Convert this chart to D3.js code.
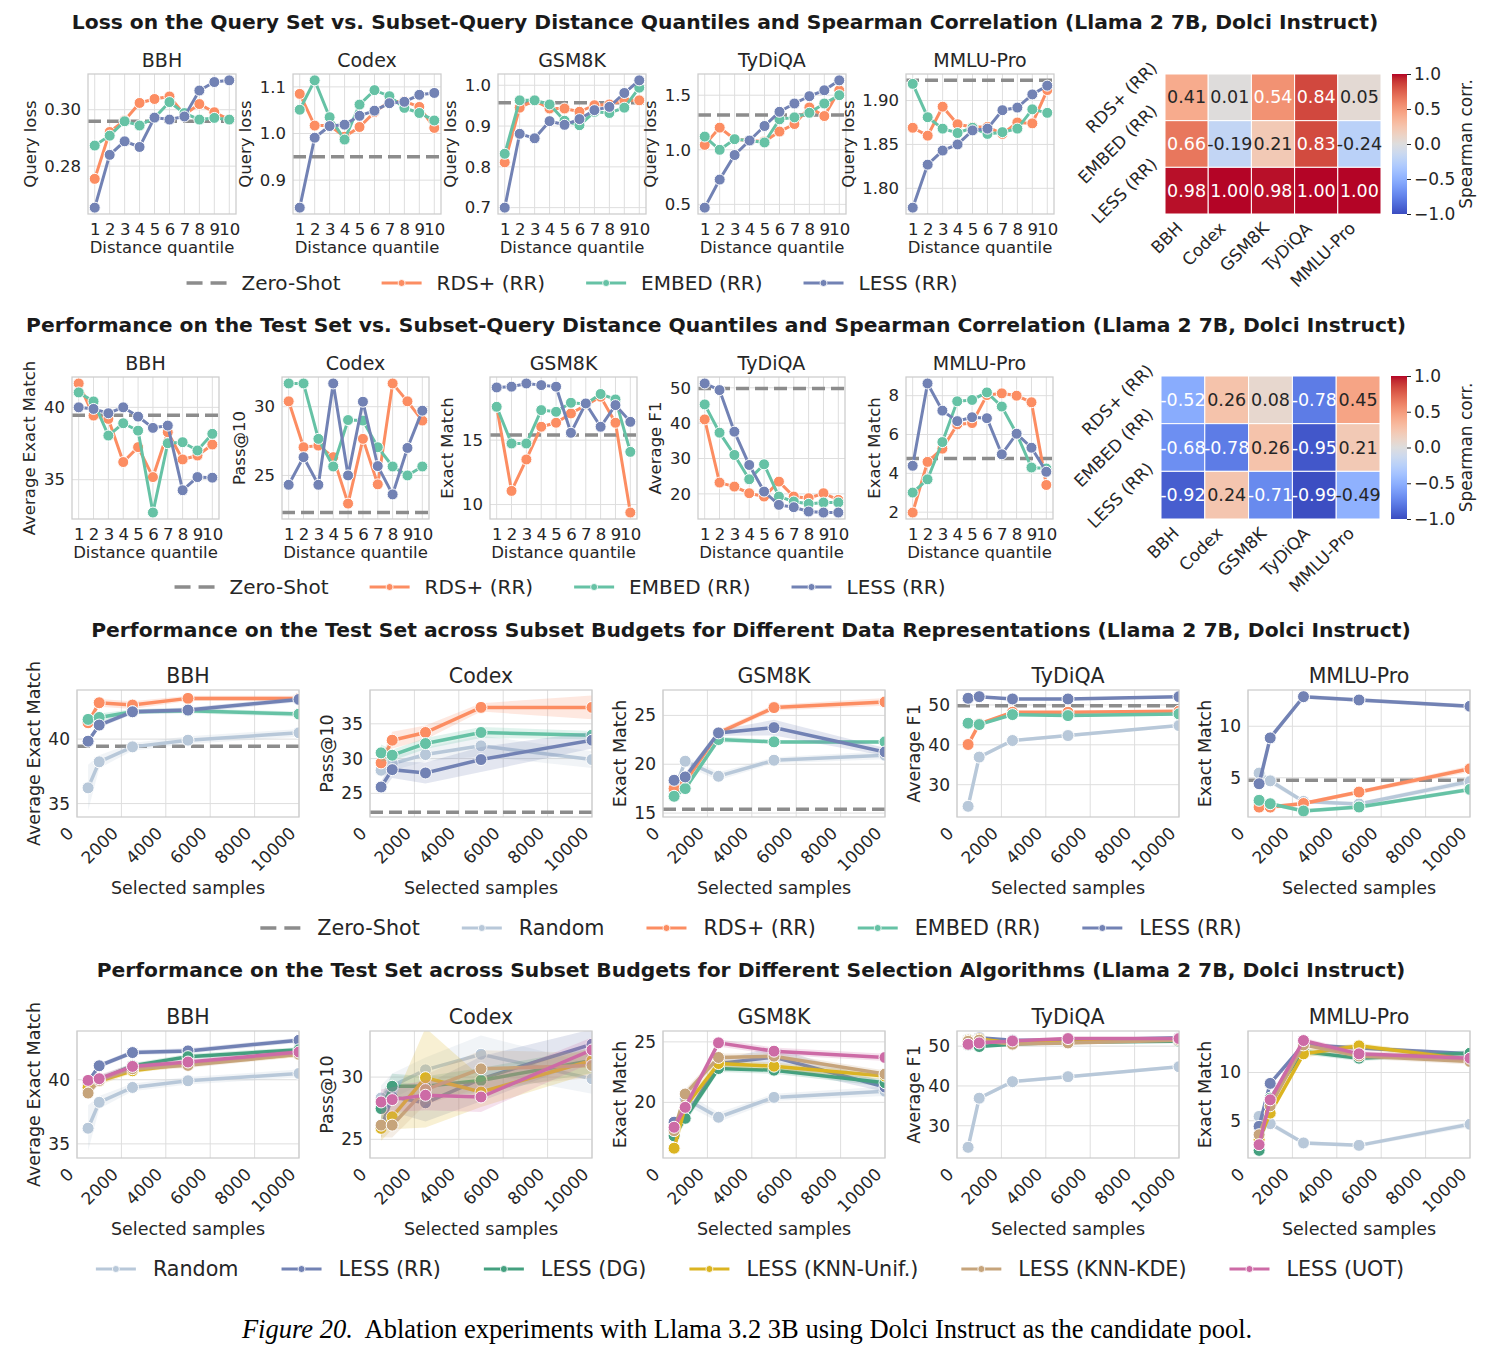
<!DOCTYPE html>
<meta charset="utf-8" />
<script src="https://d3js.org/d3.v7.min.js"></script>
<body style="margin:0;background:#fff">
<div id="chart"></div>
<script>
// ---------------- data ----------------
const tasks = ["BBH", "Codex", "GSM8K", "TyDiQA", "MMLU-Pro"];
const quantiles = [1, 2, 3, 4, 5, 6, 7, 8, 9, 10];
const budgets = [500, 1000, 2500, 5000, 10000];
const corrRows = ["RDS+ (RR)", "EMBED (RR)", "LESS (RR)"];

// row 1: query loss vs distance quantile
const lossZeroShot = [0.2959, 0.950, 0.957, 1.318, 1.923];
const lossRDS = [
  [0.2755, 0.2921, 0.2962, 0.3024, 0.3038, 0.3047, 0.2982, 0.3020, 0.2991, 0.2965],
  [1.085, 1.017, 1.017, 0.993, 1.014, 1.046, 1.068, 1.069, 1.057, 1.012],
  [0.811, 0.945, 0.963, 0.943, 0.943, 0.935, 0.951, 0.953, 0.963, 0.963],
  [1.045, 1.203, 1.097, 1.085, 1.076, 1.167, 1.236, 1.388, 1.309, 1.545],
  [1.869, 1.860, 1.893, 1.873, 1.870, 1.870, 1.862, 1.875, 1.874, 1.912]
];
const lossEMBED = [
  [0.2873, 0.2908, 0.2959, 0.2944, 0.2971, 0.3027, 0.2988, 0.2965, 0.2971, 0.2965],
  [1.051, 1.114, 1.035, 0.987, 1.062, 1.093, 1.080, 1.055, 1.044, 1.028],
  [0.832, 0.963, 0.963, 0.953, 0.913, 0.902, 0.935, 0.932, 0.945, 0.994],
  [1.121, 1.000, 1.097, 1.085, 1.067, 1.279, 1.297, 1.339, 1.424, 1.500],
  [1.919, 1.881, 1.868, 1.863, 1.869, 1.862, 1.864, 1.868, 1.890, 1.886]
];
const lossLESS = [
  [0.2653, 0.2840, 0.2888, 0.2868, 0.2972, 0.2965, 0.2976, 0.3068, 0.3098, 0.3104],
  [0.841, 0.991, 1.016, 1.019, 1.038, 1.049, 1.065, 1.068, 1.083, 1.087],
  [0.700, 0.881, 0.870, 0.912, 0.903, 0.917, 0.939, 0.947, 0.981, 1.012],
  [0.470, 0.727, 0.952, 1.085, 1.218, 1.348, 1.424, 1.491, 1.545, 1.636],
  [1.778, 1.827, 1.843, 1.850, 1.866, 1.868, 1.889, 1.892, 1.907, 1.917]
];
const lossTicks = [[0.28, 0.30], [0.9, 1.0, 1.1], [0.7, 0.8, 0.9, 1.0], [0.5, 1.0, 1.5], [1.80, 1.85, 1.90]];
const lossTickFmt = [".2f", ".1f", ".1f", ".1f", ".2f"];
const lossCorr = [
  [0.41, 0.01, 0.54, 0.84, 0.05],
  [0.66, -0.19, 0.21, 0.83, -0.24],
  [0.98, 1.00, 0.98, 1.00, 1.00]
];

// row 2: test performance vs distance quantile
const perfYLabels = ["Average Exact Match", "Pass@10", "Exact Match", "Average F1", "Exact Match"];
const perfZeroShot = [39.45, 22.3, 15.4, 49.8, 4.76];
const perfRDS = [
  [41.65, 39.43, 39.20, 36.22, 37.25, 35.18, 38.28, 36.40, 36.67, 37.43],
  [30.39, 27.05, 27.17, 26.33, 22.95, 27.66, 24.35, 31.69, 30.39, 28.99],
  [17.59, 11.06, 13.50, 16.04, 16.35, 17.07, 17.72, 18.37, 16.35, 9.38],
  [41.06, 23.19, 22.06, 20.18, 19.24, 23.47, 19.24, 18.77, 20.18, 18.30],
  [1.98, 4.59, 5.27, 6.52, 6.59, 8.03, 8.12, 8.00, 7.66, 3.40]
];
const perfEMBED = [
  [41.03, 40.41, 38.05, 38.90, 38.39, 32.73, 37.52, 37.59, 37.02, 38.17],
  [31.69, 31.69, 27.66, 25.65, 29.03, 28.99, 27.05, 25.65, 25.00, 25.65],
  [17.59, 14.74, 14.74, 17.33, 17.20, 17.90, 17.80, 18.58, 18.16, 14.09],
  [45.30, 37.30, 31.00, 24.13, 28.36, 19.24, 17.83, 17.17, 17.55, 17.55],
  [3.01, 3.69, 5.61, 7.71, 7.78, 8.17, 7.44, 6.04, 4.30, 4.25]
];
const perfLESS = [
  [40.00, 39.89, 39.59, 40.00, 39.36, 38.58, 38.74, 34.27, 35.18, 35.14],
  [24.32, 26.33, 24.32, 31.69, 25.00, 30.36, 25.68, 23.62, 27.00, 29.71],
  [19.09, 19.15, 19.40, 19.27, 19.15, 15.57, 17.85, 16.04, 17.72, 16.42],
  [51.22, 49.34, 37.58, 28.17, 20.65, 16.89, 16.23, 15.00, 14.72, 14.72],
  [4.39, 8.63, 7.23, 6.69, 6.89, 6.84, 4.98, 6.04, 5.32, 4.08]
];
const perfTicks = [[35, 40], [25, 30], [10, 15], [20, 30, 40, 50], [2, 4, 6, 8]];
const perfCorr = [
  [-0.52, 0.26, 0.08, -0.78, 0.45],
  [-0.68, -0.78, 0.26, -0.95, 0.21],
  [-0.92, 0.24, -0.71, -0.99, -0.49]
];

// rows 3-4: test performance vs number of selected samples
const budgetRandom = [
  [36.22, 38.24, 39.40, 39.92, 40.49],
  [28.32, 29.28, 30.58, 31.83, 29.86],
  [17.2, 20.31, 18.77, 20.41, 20.92],
  [24.58, 36.92, 41.08, 42.33, 44.83],
  [5.45, 4.7, 2.7, 2.45, 4.63]
];
const budgetRDS = [
  [41.27, 42.82, 42.64, 43.16, 43.16],
  [29.38, 32.64, 33.75, 37.36, 37.36],
  [17.51, 18.19, 23.21, 25.80, 26.38],
  [40.08, 45.25, 48.17, 48.17, 48.42],
  [2.15, 2.15, 2.5, 3.61, 5.87]
];
const budgetEMBED = [
  [41.53, 41.68, 42.12, 42.20, 41.94],
  [30.82, 30.48, 32.16, 33.75, 33.37],
  [16.72, 17.51, 22.53, 22.29, 22.29],
  [45.42, 45.08, 47.58, 47.33, 47.75],
  [2.81, 2.48, 1.77, 2.16, 3.87]
];
const budgetLESS = [
  [39.84, 41.09, 42.12, 42.25, 43.08],
  [25.91, 28.41, 27.93, 29.86, 32.64],
  [18.36, 18.70, 23.21, 23.75, 21.26],
  [51.67, 52.08, 51.5, 51.5, 52.08],
  [4.42, 8.87, 12.87, 12.55, 11.94]
];
const algoDG = [
  [39.56, 40.0, 41.1, 41.8, 42.34],
  [27.47, 29.26, 29.26, 29.73, 31.33],
  [17.23, 18.68, 22.80, 22.66, 21.62],
  [50.3, 49.9, 50.5, 51.0, 51.2],
  [1.93, 7.34, 12.17, 11.48, 12.0]
];
const algoUnif = [
  [39.4, 39.9, 40.7, 41.25, 41.98],
  [25.88, 26.81, 29.95, 28.80, 31.33],
  [16.21, 19.64, 23.21, 22.99, 22.17],
  [51.5, 51.8, 50.8, 51.0, 51.8],
  [3.03, 5.79, 11.93, 12.76, 11.31]
];
const algoKDE = [
  [38.96, 39.95, 40.86, 41.12, 41.98],
  [26.14, 26.14, 28.99, 30.66, 30.93],
  [17.66, 20.69, 23.71, 23.82, 22.34],
  [51.2, 51.5, 50.5, 50.8, 51.5],
  [3.55, 6.55, 12.86, 11.72, 11.14]
];
const algoUOT = [
  [39.95, 40.08, 41.04, 41.38, 42.16],
  [28.0, 28.19, 28.54, 28.40, 32.18],
  [17.94, 19.59, 24.92, 24.23, 23.71],
  [50.46, 50.8, 51.3, 51.9, 51.9],
  [2.52, 7.17, 13.31, 11.93, 11.48]
];
// confidence band half widths
const ciRandom = [[1.8, 0.5, 0.3, 0.3, 0.3], [1.0, 1.0, 1.0, 1.5, 1.2], [0.4, 0.5, 0.4, 0.3, 0.4], [0.6, 0.5, 0.4, 0.4, 0.4], [0.4, 0.3, 0.2, 0.2, 0.3]];
const ciRDS = [[0.3, 0.3, 0.3, 0.2, 0.2], [0.8, 1.2, 1.0, 0.6, 1.7], [0.3, 0.3, 0.3, 0.3, 0.4], [0.4, 0.4, 0.4, 0.3, 0.3], [0.2, 0.2, 0.2, 0.2, 0.3]];
const ciEMBED = [[0.3, 0.3, 0.2, 0.2, 0.2], [1.2, 0.8, 0.8, 0.8, 0.6], [0.3, 0.3, 0.3, 0.2, 0.2], [0.4, 0.4, 0.3, 0.3, 0.3], [0.2, 0.2, 0.2, 0.2, 0.2]];
const ciLESS = [[0.2, 0.2, 0.2, 0.2, 0.2], [0.8, 1.2, 1.5, 1.8, 1.2], [0.4, 0.4, 0.3, 0.8, 0.4], [0.3, 0.3, 0.3, 0.3, 0.3], [0.2, 0.3, 0.2, 0.2, 0.2]];
const ciDG = [[0.3, 0.3, 0.2, 0.2, 0.2], [1.0, 1.0, 0.8, 1.0, 1.0], [0.4, 0.4, 0.3, 0.3, 0.3], [0.4, 0.4, 0.3, 0.3, 0.3], [0.3, 0.4, 0.3, 0.3, 0.3]];
const ciUnif = [[0.3, 0.3, 0.2, 0.2, 0.2], [1.0, 1.0, 4.0, 1.2, 1.0], [0.4, 0.5, 0.3, 0.3, 0.3], [0.4, 0.4, 0.3, 0.3, 0.3], [0.3, 0.4, 0.4, 0.3, 0.3]];
const ciKDE = [[0.3, 0.3, 0.2, 0.2, 0.2], [1.0, 1.0, 1.2, 1.5, 1.0], [0.4, 0.4, 0.3, 0.3, 0.3], [0.4, 0.4, 0.3, 0.3, 0.3], [0.3, 0.4, 0.3, 0.3, 0.3]];
const ciUOT = [[0.3, 0.3, 0.2, 0.2, 0.2], [1.0, 1.0, 1.2, 1.2, 1.0], [0.4, 0.4, 0.3, 0.3, 0.3], [0.4, 0.4, 0.3, 0.3, 0.3], [0.3, 0.4, 0.3, 0.3, 0.3]];

const budgetTicks3 = [[35, 40], [25, 30, 35], [15, 20, 25], [30, 40, 50], [5, 10]];
const budgetTicks4 = [[35, 40], [25, 30], [20, 25], [30, 40, 50], [5, 10]];
const budgetYLim3 = [[33.96, 43.81], [21.6, 39.86], [14.6, 27.6], [21.9, 53.75], [1.19, 13.52]];
const budgetYLim4 = [[33.9, 43.8], [23.5, 33.7], [15.4, 25.9], [21.9, 53.8], [1.14, 14.3]];
const budgetXTicks = [0, 2000, 4000, 6000, 8000, 10000];

// ---------------- style ----------------
const FONT = "DejaVu Sans";
const TEXT = "#262626";
const GRID = "#dedede";
const SPINE = "#cccccc";
const C = {
  zero: "#8c8c8c", rds: "#fc8d62", embed: "#66c2a5", less: "#7282b4", random: "#b8c8d9",
  dg: "#44a07f", unif: "#dbb421", kde: "#c6a47b", uot: "#cd6ba6"
};
const coolwarmStops = [[59,76,192],[68,90,204],[77,104,215],[87,117,225],[98,130,234],[108,142,241],[119,154,247],[130,165,251],[141,176,254],[152,185,255],[163,194,255],[174,201,253],[184,208,249],[194,213,244],[204,217,238],[213,219,230],[221,221,221],[229,216,209],[236,211,197],[241,204,185],[245,196,173],[247,187,160],[247,177,148],[247,166,135],[244,154,123],[241,141,111],[236,127,99],[229,112,88],[222,96,77],[213,80,66],[203,62,56],[192,40,47],[180,4,38]];
const coolwarm = d3.scaleLinear()
  .domain(coolwarmStops.map((c, i) => -1 + 2 * i / (coolwarmStops.length - 1)))
  .range(coolwarmStops.map(c => `rgb(${c})`))
  .interpolate(d3.interpolateRgb);

function luminance(col) {
  const c = d3.rgb(col);
  const f = v => { v /= 255; return v <= 0.03928 ? v / 12.92 : Math.pow((v + 0.055) / 1.055, 2.4); };
  return 0.2126 * f(c.r) + 0.7152 * f(c.g) + 0.0722 * f(c.b);
}

const svg = d3.select("#chart").append("svg")
  .attr("width", 1500).attr("height", 1359)
  .style("font-family", FONT).style("background", "#fff");
const defs = svg.append("defs");

// place rotated text like matplotlib (align the rotated bounding box)
function alignRotated(sel, fx, fy, ha, va, angle) {
  const a = angle * Math.PI / 180;
  sel.each(function (d, i) {
    const t = d3.select(this).attr("x", 0).attr("y", 0).attr("dy", null)
      .attr("text-anchor", "middle").attr("dominant-baseline", "central");
    const b = this.getBBox();
    const bw = b.width * Math.cos(a) + b.height * Math.sin(a);
    const bh = b.width * Math.sin(a) + b.height * Math.cos(a);
    const ax = fx(d, i), ay = fy(d, i);
    const cx = ha === "right" ? ax - bw / 2 : ax;
    const cy = va === "top" ? ay + bh / 2 : ay;
    t.attr("transform", `translate(${cx},${cy}) rotate(${-angle})`);
  });
}

let clipN = 0;
function linePanel(p) {
  const g = svg.append("g");
  const x = d3.scaleLinear().domain(p.xDomain).range([p.left, p.left + p.w]);
  let yd = p.yLim;
  if (!yd) {
    const all = p.series.flatMap(s => s.vals).concat(p.zero != null ? [p.zero] : []);
    const [lo, hi] = d3.extent(all);
    const m = (hi - lo) * 0.05;
    yd = [lo - m, hi + m];
  }
  const y = d3.scaleLinear().domain(yd).range([p.top + p.h, p.top]);

  g.selectAll(".gx").data(p.xTicks).join("line")
    .attr("x1", d => x(d)).attr("x2", d => x(d))
    .attr("y1", p.top).attr("y2", p.top + p.h)
    .attr("stroke", GRID).attr("stroke-width", 1);
  g.selectAll(".gy").data(p.yTicks).join("line")
    .attr("x1", p.left).attr("x2", p.left + p.w)
    .attr("y1", d => y(d)).attr("y2", d => y(d))
    .attr("stroke", GRID).attr("stroke-width", 1);

  const id = "clip" + (clipN++);
  defs.append("clipPath").attr("id", id).append("rect")
    .attr("x", p.left).attr("y", p.top).attr("width", p.w).attr("height", p.h);
  const plot = g.append("g").attr("clip-path", `url(#${id})`);

  if (p.zero != null) {
    plot.append("line")
      .attr("x1", p.left).attr("x2", p.left + p.w)
      .attr("y1", y(p.zero)).attr("y2", y(p.zero))
      .attr("stroke", C.zero).attr("stroke-width", 3.5).attr("stroke-dasharray", "13,6");
  }
  p.series.forEach(s => {
    const pts = p.xValues.map((xv, i) => ({ x: xv, y: s.vals[i], ci: s.ci ? s.ci[i] : 0 }));
    if (s.ci) {
      plot.append("path").datum(pts)
        .attr("d", d3.area().x(d => x(d.x)).y0(d => y(d.y - d.ci)).y1(d => y(d.y + d.ci)))
        .attr("fill", s.color).attr("opacity", 0.2);
    }
    plot.append("path").datum(pts)
      .attr("d", d3.line().x(d => x(d.x)).y(d => y(d.y)))
      .attr("fill", "none").attr("stroke", s.color).attr("stroke-width", p.lw);
    plot.selectAll(null).data(pts).join("circle")
      .attr("cx", d => x(d.x)).attr("cy", d => y(d.y)).attr("r", p.r)
      .attr("fill", s.color).attr("stroke", "#fff").attr("stroke-width", 1);
  });

  g.append("rect").attr("x", p.left).attr("y", p.top).attr("width", p.w).attr("height", p.h)
    .attr("fill", "none").attr("stroke", SPINE).attr("stroke-width", 1.25);

  // axes
  const ay = g.append("g").attr("transform", `translate(${p.left},0)`)
    .call(d3.axisLeft(y).tickValues(p.yTicks).tickSize(0).tickPadding(7).tickFormat(d3.format(p.yFmt)))
    .attr("font-size", null).attr("font-family", null);
  ay.select(".domain").remove();
  ay.selectAll("text").attr("font-size", p.tickFs).attr("fill", TEXT);

  const ax = g.append("g").attr("transform", `translate(0,${p.top + p.h})`)
    .call(d3.axisBottom(x).tickValues(p.xTicks).tickSize(0).tickPadding(p.xPad).tickFormat(d3.format("d")))
    .attr("font-size", null).attr("font-family", null);
  ax.select(".domain").remove();
  ax.selectAll("text").attr("font-size", p.tickFs).attr("fill", TEXT);
  if (p.rotate) alignRotated(ax.selectAll(".tick text"), () => 0, () => p.xPad, "right", "top", 45);

  const by = ay.node().getBBox();
  const lx = p.left + by.x - 5 - p.labelFs * 0.55;
  g.append("text").attr("transform", `translate(${lx},${p.top + p.h / 2}) rotate(-90)`)
    .attr("text-anchor", "middle").attr("dominant-baseline", "central")
    .attr("font-size", p.labelFs).attr("fill", TEXT).text(p.yLabel);

  const bx = ax.node().getBBox();
  const ly = p.top + p.h + bx.y + bx.height + p.xLabelGap + p.labelFs * 0.55;
  g.append("text").attr("x", p.left + p.w / 2).attr("y", ly)
    .attr("text-anchor", "middle").attr("dominant-baseline", "central")
    .attr("font-size", p.labelFs).attr("fill", TEXT).text(p.xLabel);

  g.append("text").attr("x", p.left + p.w / 2).attr("y", p.top - 7)
    .attr("text-anchor", "middle").attr("font-size", p.titleFs).attr("fill", TEXT).text(p.title);
}

function heatmap(p) {
  const g = svg.append("g");
  const xb = d3.scaleBand().domain(tasks).range([p.left, p.left + p.w]);
  const yb = d3.scaleBand().domain(corrRows).range([p.top, p.top + p.h]);
  const cells = p.values.flatMap((row, i) => row.map((v, j) => ({ r: corrRows[i], c: tasks[j], v })));
  g.selectAll("rect").data(cells).join("rect")
    .attr("x", d => xb(d.c)).attr("y", d => yb(d.r))
    .attr("width", xb.bandwidth()).attr("height", yb.bandwidth())
    .attr("fill", d => coolwarm(d.v)).attr("stroke", "#fff").attr("stroke-width", 1);
  g.selectAll("text.ann").data(cells).join("text").attr("class", "ann")
    .attr("x", d => xb(d.c) + xb.bandwidth() / 2).attr("y", d => yb(d.r) + yb.bandwidth() / 2)
    .attr("text-anchor", "middle").attr("dominant-baseline", "central")
    .attr("font-size", 17.5)
    .attr("fill", d => luminance(coolwarm(d.v)) > 0.43 ? TEXT : "#fff")
    .text(d => d.v.toFixed(2));

  g.selectAll("text.rl").data(corrRows).join("text").attr("class", "rl")
    .attr("font-size", 17).attr("fill", TEXT).text(d => d)
    .call(alignRotated, () => p.left - 4, d => yb(d) + yb.bandwidth() / 2, "right", "center", 45);
  g.selectAll("text.cl").data(tasks).join("text").attr("class", "cl")
    .attr("font-size", 17).attr("fill", TEXT).text(d => d)
    .call(alignRotated, d => xb(d) + xb.bandwidth() / 2, () => p.top + p.h + 4, "right", "top", 45);

  // colorbar
  const gid = "cw" + p.top;
  const grad = defs.append("linearGradient").attr("id", gid)
    .attr("x1", 0).attr("y1", 1).attr("x2", 0).attr("y2", 0);
  coolwarmStops.forEach((c, i) => grad.append("stop")
    .attr("offset", i / (coolwarmStops.length - 1)).attr("stop-color", `rgb(${c})`));
  g.append("rect").attr("x", p.cbx).attr("y", p.top).attr("width", p.cbw).attr("height", p.h)
    .attr("fill", `url(#${gid})`);
  const cs = d3.scaleLinear().domain([-1, 1]).range([p.top + p.h, p.top]);
  const ca = g.append("g").attr("transform", `translate(${p.cbx + p.cbw},0)`)
    .call(d3.axisRight(cs).tickValues([-1, -0.5, 0, 0.5, 1]).tickSize(4).tickPadding(3).tickFormat(d3.format(".1f")))
    .attr("font-size", null).attr("font-family", null);
  ca.select(".domain").remove();
  ca.selectAll("line").attr("stroke", TEXT);
  ca.selectAll("text").attr("font-size", 17).attr("fill", TEXT);
  const cb = ca.node().getBBox();
  g.append("text")
    .attr("transform", `translate(${p.cbx + p.cbw + cb.x + cb.width + 2 + 9},${p.top + p.h / 2}) rotate(-90)`)
    .attr("text-anchor", "middle").attr("dominant-baseline", "central")
    .attr("font-size", 17).attr("fill", TEXT).text("Spearman corr.");
}

function legend(cx, y, items, fs, hp, cs) {
  const g = svg.append("g");
  const hl = 40;
  const texts = items.map(it => g.append("text").attr("font-size", fs).attr("fill", TEXT)
    .attr("dominant-baseline", "central").text(it.label));
  const widths = texts.map(t => t.node().getComputedTextLength());
  const total = d3.sum(widths) + items.length * (hl + hp) + (items.length - 1) * cs;
  let xx = cx - total / 2;
  items.forEach((it, i) => {
    g.append("line").attr("x1", xx).attr("x2", xx + hl).attr("y1", y).attr("y2", y)
      .attr("stroke", it.color).attr("stroke-width", it.dashed ? 3.5 : 3)
      .attr("stroke-dasharray", it.dashed ? "16,8" : null);
    if (!it.dashed) g.append("circle").attr("cx", xx + hl / 2).attr("cy", y).attr("r", 3.5)
      .attr("fill", it.color).attr("stroke", "#fff").attr("stroke-width", 0.8);
    texts[i].attr("x", xx + hl + hp).attr("y", y);
    xx += hl + hp + widths[i] + cs;
  });
}

function title(txt, cx, y) {
  svg.append("text").attr("x", cx).attr("y", y).attr("text-anchor", "middle")
    .attr("font-size", 20.3).attr("font-weight", "bold").attr("fill", "#1a1a1a").text(txt);
}

// ---------------- layout ----------------
const row1 = { top: 74, h: 140, lefts: [88, 293, 498, 698, 906], w: 148 };
const row2 = { top: 377, h: 142, lefts: [72, 282, 490, 698, 906], w: 147 };
const row3 = { top: 690, h: 127, lefts: [77, 370, 663, 957, 1248], w: 222 };
const row4 = { top: 1031, h: 127, lefts: [77, 370, 663, 957, 1248], w: 222 };
const qDomain = [0.55, 10.45];

title("Loss on the Query Set vs. Subset-Query Distance Quantiles and Spearman Correlation (Llama 2 7B, Dolci Instruct)", 725, 29);
tasks.forEach((t, i) => linePanel({
  left: row1.lefts[i], top: row1.top, w: row1.w, h: row1.h,
  xDomain: qDomain, xValues: quantiles, xTicks: quantiles, xPad: 9, rotate: false,
  yTicks: lossTicks[i], yFmt: lossTickFmt[i], zero: lossZeroShot[i],
  series: [
    { vals: lossRDS[i], color: C.rds },
    { vals: lossEMBED[i], color: C.embed },
    { vals: lossLESS[i], color: C.less }
  ],
  lw: 3, r: 5.5, tickFs: 16.5, labelFs: 16.5, titleFs: 19, xLabelGap: 0,
  title: t, yLabel: "Query loss", xLabel: "Distance quantile"
}));
heatmap({ left: 1165, top: 74, w: 216, h: 140, values: lossCorr, cbx: 1392, cbw: 15 });
legend(572, 283, [
  { label: "Zero-Shot", color: C.zero, dashed: true },
  { label: "RDS+ (RR)", color: C.rds },
  { label: "EMBED (RR)", color: C.embed },
  { label: "LESS (RR)", color: C.less }
], 20, 15, 41);

title("Performance on the Test Set vs. Subset-Query Distance Quantiles and Spearman Correlation (Llama 2 7B, Dolci Instruct)", 716, 332);
tasks.forEach((t, i) => linePanel({
  left: row2.lefts[i], top: row2.top, w: row2.w, h: row2.h,
  xDomain: qDomain, xValues: quantiles, xTicks: quantiles, xPad: 9, rotate: false,
  yTicks: perfTicks[i], yFmt: "d", zero: perfZeroShot[i],
  series: [
    { vals: perfRDS[i], color: C.rds },
    { vals: perfEMBED[i], color: C.embed },
    { vals: perfLESS[i], color: C.less }
  ],
  lw: 3, r: 5.5, tickFs: 16.5, labelFs: 16.5, titleFs: 19, xLabelGap: 0,
  title: t, yLabel: perfYLabels[i], xLabel: "Distance quantile"
}));
heatmap({ left: 1161, top: 376, w: 219, h: 143, values: perfCorr, cbx: 1391, cbw: 16 });
legend(560, 587, [
  { label: "Zero-Shot", color: C.zero, dashed: true },
  { label: "RDS+ (RR)", color: C.rds },
  { label: "EMBED (RR)", color: C.embed },
  { label: "LESS (RR)", color: C.less }
], 20, 15, 41);

title("Performance on the Test Set across Subset Budgets for Different Data Representations (Llama 2 7B, Dolci Instruct)", 751, 637);
tasks.forEach((t, i) => linePanel({
  left: row3.lefts[i], top: row3.top, w: row3.w, h: row3.h,
  xDomain: [0, 10000], xValues: budgets, xTicks: budgetXTicks, xPad: 6, rotate: true,
  yTicks: budgetTicks3[i], yFmt: "d", zero: perfZeroShot[i], yLim: budgetYLim3[i],
  series: [
    { vals: budgetRandom[i], ci: ciRandom[i], color: C.random },
    { vals: budgetRDS[i], ci: ciRDS[i], color: C.rds },
    { vals: budgetEMBED[i], ci: ciEMBED[i], color: C.embed },
    { vals: budgetLESS[i], ci: ciLESS[i], color: C.less }
  ],
  lw: 3.5, r: 6, tickFs: 17, labelFs: 17.5, titleFs: 20.5, xLabelGap: 3,
  title: t, yLabel: perfYLabels[i], xLabel: "Selected samples"
}));
legend(751, 928, [
  { label: "Zero-Shot", color: C.zero, dashed: true },
  { label: "Random", color: C.random },
  { label: "RDS+ (RR)", color: C.rds },
  { label: "EMBED (RR)", color: C.embed },
  { label: "LESS (RR)", color: C.less }
], 20.7, 17, 42);

title("Performance on the Test Set across Subset Budgets for Different Selection Algorithms (Llama 2 7B, Dolci Instruct)", 751, 977);
tasks.forEach((t, i) => linePanel({
  left: row4.lefts[i], top: row4.top, w: row4.w, h: row4.h,
  xDomain: [0, 10000], xValues: budgets, xTicks: budgetXTicks, xPad: 6, rotate: true,
  yTicks: budgetTicks4[i], yFmt: "d", zero: null, yLim: budgetYLim4[i],
  series: [
    { vals: budgetRandom[i], ci: ciRandom[i], color: C.random },
    { vals: budgetLESS[i], ci: ciLESS[i], color: C.less },
    { vals: algoDG[i], ci: ciDG[i], color: C.dg },
    { vals: algoUnif[i], ci: ciUnif[i], color: C.unif },
    { vals: algoKDE[i], ci: ciKDE[i], color: C.kde },
    { vals: algoUOT[i], ci: ciUOT[i], color: C.uot }
  ],
  lw: 3.5, r: 6, tickFs: 17, labelFs: 17.5, titleFs: 20.5, xLabelGap: 3,
  title: t, yLabel: perfYLabels[i], xLabel: "Selected samples"
}));
legend(750, 1269, [
  { label: "Random", color: C.random },
  { label: "LESS (RR)", color: C.less },
  { label: "LESS (DG)", color: C.dg },
  { label: "LESS (KNN-Unif.)", color: C.unif },
  { label: "LESS (KNN-KDE)", color: C.kde },
  { label: "LESS (UOT)", color: C.uot }
], 20.7, 17, 43);

const cap = svg.append("text").attr("x", 747).attr("y", 1338).attr("text-anchor", "middle")
  .attr("font-family", "Liberation Serif").attr("font-size", 26.5).attr("fill", "#000");
cap.append("tspan").attr("font-style", "italic").text("Figure 20.");
cap.append("tspan").text("\u00a0 Ablation experiments with Llama 3.2 3B using Dolci Instruct as the candidate pool.");
</script>
</body>
